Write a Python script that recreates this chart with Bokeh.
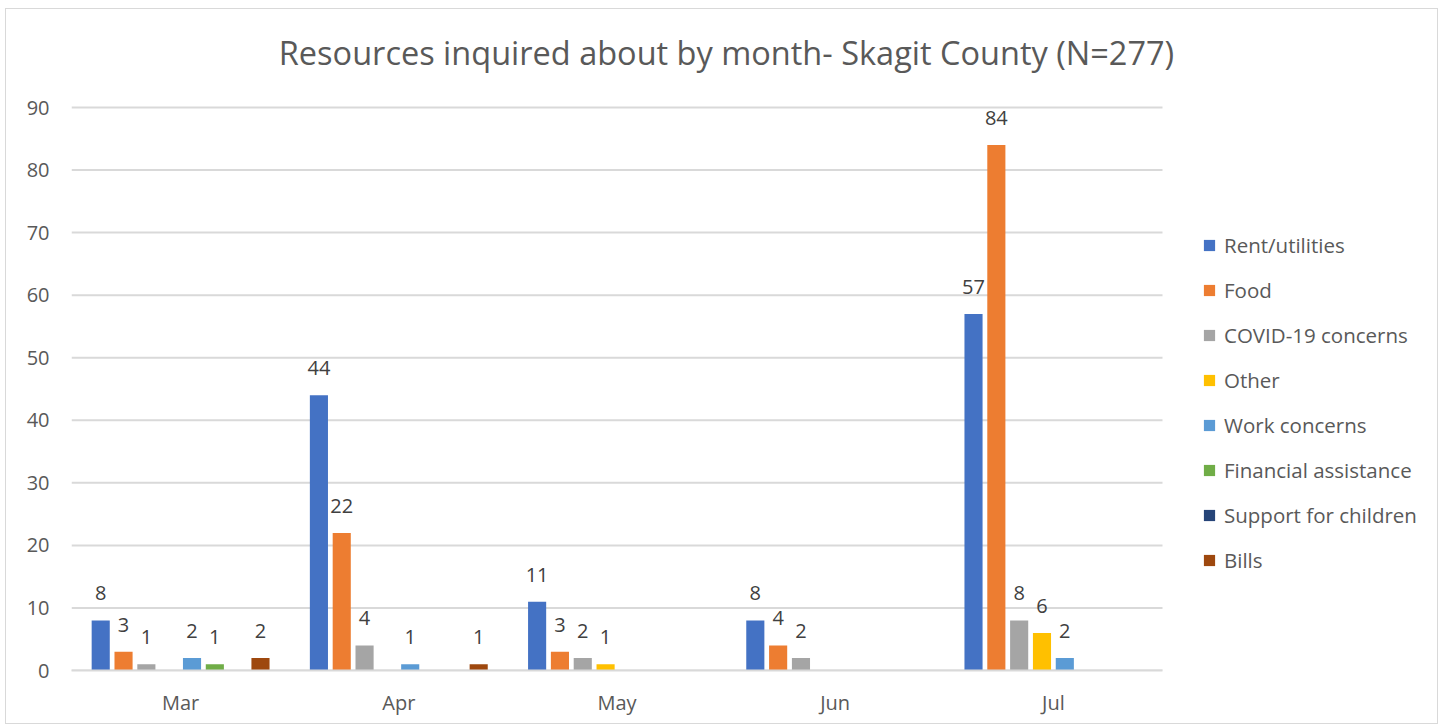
from bokeh.plotting import figure
from bokeh.models import (ColumnDataSource, Range1d, Legend, LegendItem, Label,
                          FixedTicker)
from bokeh.core.properties import value
from bokeh.embed import file_html
from bokeh.resources import INLINE

months = ["Mar", "Apr", "May", "Jun", "Jul"]
series = ["Rent/utilities", "Food", "COVID-19 concerns", "Other", "Work concerns",
          "Financial assistance", "Support for children", "Bills"]
rent = [8, 44, 11, 8, 57]
food = [3, 22, 3, 4, 84]
covid = [1, 4, 2, 2, 8]
other = [0, 0, 1, 0, 6]
work = [2, 1, 0, 0, 2]
financial = [1, 0, 0, 0, 0]
support = [0, 0, 0, 0, 0]
bills = [2, 1, 0, 0, 0]
values = [rent, food, covid, other, work, financial, support, bills]
colors = ["#4472C4", "#ED7D31", "#A5A5A5", "#FFC000", "#5B9BD5", "#70AD47", "#264478", "#9E480E"]
y_ticks = [0, 10, 20, 30, 40, 50, 60, 70, 80, 90]
title_text = "Resources inquired about by month- Skagit County (N=277)"

FONT = "Open Sans"
TXT = "#595959"
W, H = 1433, 716
LEFT, BOTTOM = 65, 55
PLOT_W = 1091          # pixel width of the month area
PLOT_TOP = 98          # pixel position of the 90 gridline from the top
n = len(months)
ymax = y_ticks[-1]
x_end = n * (W - LEFT) / PLOT_W
px_per_unit = (H - BOTTOM - PLOT_TOP) / ymax
y_end = ymax + PLOT_TOP / px_per_unit

p = figure(x_range=Range1d(0, x_end), y_range=Range1d(0, y_end), width=W, height=H,
           output_backend="svg", toolbar_location=None,
           min_border_left=LEFT, min_border_right=0, min_border_top=0,
           min_border_bottom=BOTTOM)
p.title = None
p.outline_line_color = None
p.background_fill_color = "white"
p.border_fill_color = "white"
p.styles = {"border": "1px solid #D9D9D9", "margin": "8px 0px 0px 5px"}

# horizontal gridlines across the month area only
p.segment(x0=[0] * len(y_ticks), x1=[n] * len(y_ticks), y0=y_ticks, y1=y_ticks,
          line_color="#D9D9D9", line_width=2, level="underlay")

step = 0.1046
bw = 0.083
centers = [k + 0.5 for k in range(n)]
items = []
for i, (name, vals, col) in enumerate(zip(series, values, colors)):
    off = (i - 3.5) * step
    xs = [c + off for c in centers]
    src = ColumnDataSource(dict(x=xs, y=vals))
    r = p.vbar(x="x", top="y", width=bw, bottom=0, source=src,
               fill_color=col, line_color=None)
    lab = ColumnDataSource(dict(
        x=[x for x, v in zip(xs, vals) if v > 0],
        y=[v for v in vals if v > 0],
        t=[str(v) for v in vals if v > 0]))
    p.text(x="x", y="y", text="t", source=lab,
           text_align="center", text_baseline="alphabetic", y_offset=-27,
           text_font=value(FONT), text_font_size="20px", text_color="#404040")
    items.append(LegendItem(label=name, renderers=[r]))

legend = Legend(items=items, location=(1131, 96), orientation="vertical",
                padding=0, margin=0, border_line_color=None, background_fill_alpha=0,
                glyph_width=14, glyph_height=14, label_standoff=8, spacing=17,
                label_text_font=FONT, label_text_font_size="20.5px", label_text_color=TXT,
                label_height=26)
p.add_layout(legend, "center")

# chart title, centred over the plot + legend block
p.add_layout(Label(x=n * (720 - LEFT) / PLOT_W, y=ymax + (PLOT_TOP - 43) / px_per_unit,
                   text=title_text, text_align="center", text_baseline="middle",
                   text_font=FONT, text_font_size="32.5px", text_color=TXT))

p.yaxis.ticker = FixedTicker(ticks=y_ticks)
p.yaxis.axis_line_color = None
p.yaxis.major_tick_line_color = None
p.yaxis.minor_tick_line_color = None
p.yaxis.major_label_standoff = 16
p.yaxis.major_label_text_font = FONT
p.yaxis.major_label_text_font_size = "20px"
p.yaxis.major_label_text_color = TXT

p.xaxis.ticker = FixedTicker(ticks=centers)
p.xaxis.major_label_overrides = {c: m for c, m in zip(centers, months)}
p.xaxis.bounds = (0, n)
p.xaxis.axis_line_color = "#D9D9D9"
p.xaxis.axis_line_width = 2
p.xaxis.major_tick_line_color = None
p.xaxis.minor_tick_line_color = None
p.xaxis.major_label_standoff = 12
p.xaxis.major_label_text_font = FONT
p.xaxis.major_label_text_font_size = "20px"
p.xaxis.major_label_text_color = TXT

p.xgrid.grid_line_color = None
p.ygrid.grid_line_color = None

open("out.html", "w").write(file_html(p, INLINE))
